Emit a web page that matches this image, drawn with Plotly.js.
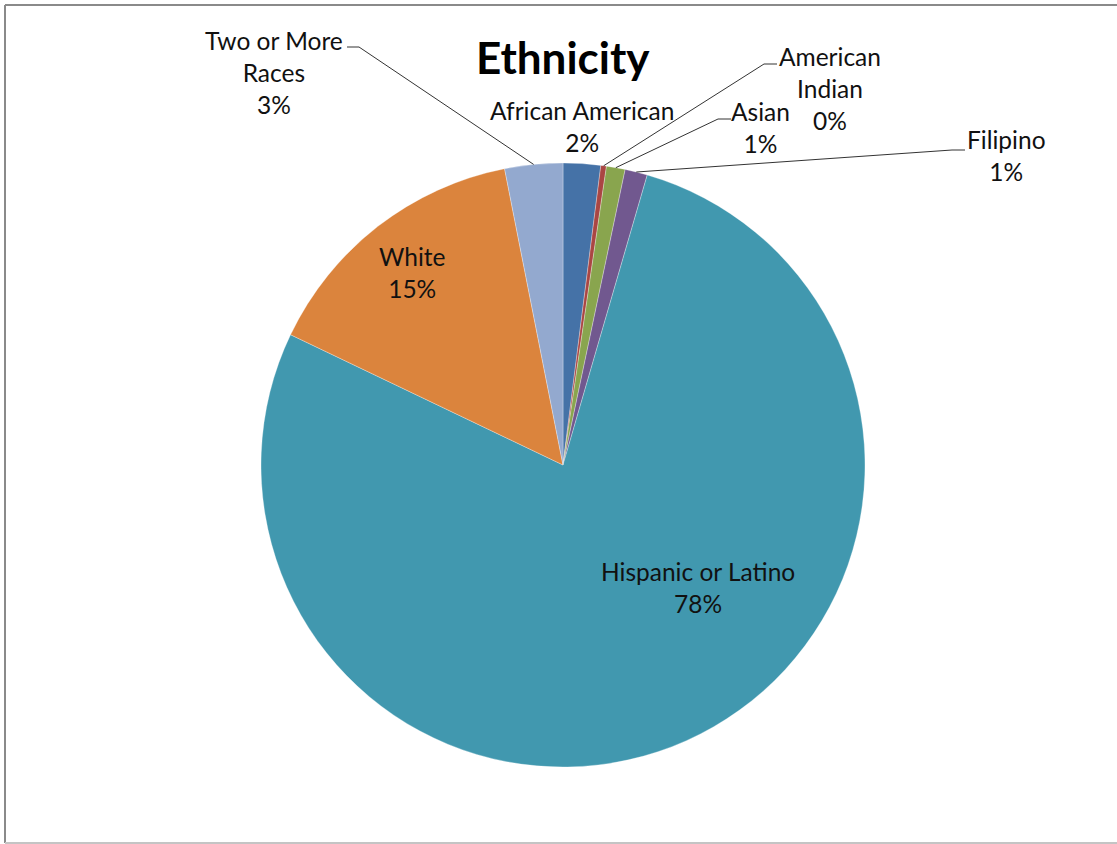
<!DOCTYPE html>
<html>
<head>
<meta charset="utf-8">
<script src="https://cdn.plot.ly/plotly-3.0.1.min.js"></script>
<style>
  html, body { margin: 0; padding: 0; background: #ffffff; }
  #chart { width: 1117px; height: 844px; }
</style>
</head>
<body>
<div id="chart"></div>
<script>
// Student ethnicity breakdown (percent of enrollment)
const categories = [
  'African American', 'American Indian', 'Asian', 'Filipino',
  'Hispanic or Latino', 'White', 'Two or More Races'
];
const shares = [2.0, 0.3, 1.0, 1.2, 77.6, 14.8, 3.1];
const sliceColors = ['#4572A7', '#AA4643', '#89A54E', '#71588F', '#4198AF', '#DB843D', '#93A9CF'];

// How each category name is broken over lines in its label
const labelLines = [
  ['African American'],
  ['American', 'Indian'],
  ['Asian'],
  ['Filipino'],
  ['Hispanic or Latino'],
  ['White'],
  ['Two or More', 'Races']
];

// Page geometry (pixels)
const W = 1117, H = 844;
const pie = { cx: 563, cy: 465, r: 302 };

// Label anchor (centre of first text line) and optional leader elbow, in pixels
const labelLayout = [
  { x: 582,  y: 111, leader: null },
  { x: 830,  y: 57,  leader: { ex: 777, ey: 64, side: 'left' } },
  { x: 760,  y: 112, leader: { ex: 731, ey: 119, side: 'left' } },
  { x: 1006, y: 140, leader: { ex: 965, ey: 150, side: 'left' } },
  { x: 698,  y: 572, leader: null },
  { x: 412,  y: 257, leader: null },
  { x: 274,  y: 41,  leader: { ex: 347, ey: 47, side: 'right' } }
];

const px = x => x / W;
const py = y => 1 - y / H;

const total = shares.reduce((a, b) => a + b, 0);
const LINE_H = 31.5;
const FONT = 'Lato, "Open Sans", sans-serif';

const annotations = [];
const shapes = [];

let cum = 0;
shares.forEach((v, i) => {
  const pct = Math.round(v / total * 100) + '%';
  const lines = labelLines[i].concat([pct]);
  const L = labelLayout[i];
  const midY = L.y + (lines.length - 1) * LINE_H / 2;
  annotations.push({
    xref: 'paper', yref: 'paper',
    x: px(L.x), y: py(midY),
    xanchor: 'center', yanchor: 'middle',
    text: lines.join('<br>'),
    showarrow: false,
    font: { family: FONT, size: 24.5, color: '#111111' },
    align: 'center'
  });

  // leader line from the slice's outer edge (mid-angle) to the label
  const mid = (cum + v / 2) / total * 2 * Math.PI;
  cum += v;
  if (L.leader) {
    const sx = pie.cx + pie.r * Math.sin(mid);
    const sy = pie.cy - pie.r * Math.cos(mid);
    const ex = L.leader.ex, ey = L.leader.ey;
    const hx = L.leader.side === 'left' ? ex - 13 : ex + 12;
    shapes.push({
      type: 'line', xref: 'paper', yref: 'paper',
      x0: px(sx), y0: py(sy), x1: px(hx), y1: py(ey),
      line: { color: '#333333', width: 1 }
    });
    shapes.push({
      type: 'line', xref: 'paper', yref: 'paper',
      x0: px(hx), y0: py(ey), x1: px(ex), y1: py(ey),
      line: { color: '#333333', width: 1 }
    });
  }
});

annotations.push({
  xref: 'paper', yref: 'paper',
  x: px(563), y: py(57),
  xanchor: 'center', yanchor: 'middle',
  text: '<b>Ethnicity</b>',
  showarrow: false,
  font: { family: FONT, size: 44, color: '#000000' }
});

// chart frame
shapes.push(
  { type: 'line', xref: 'paper', yref: 'paper', x0: px(5), y0: py(5), x1: 1, y1: py(5),
    line: { color: '#8a8a8a', width: 2 } },
  { type: 'line', xref: 'paper', yref: 'paper', x0: px(5), y0: py(5), x1: px(5), y1: py(843),
    line: { color: '#8a8a8a', width: 2 } },
  { type: 'line', xref: 'paper', yref: 'paper', x0: px(5), y0: py(843), x1: 1, y1: py(843),
    line: { color: '#c4c4c4', width: 2 } }
);

const trace = {
  type: 'pie',
  labels: categories,
  values: shares,
  sort: false,
  direction: 'clockwise',
  rotation: 0,
  textinfo: 'none',
  hoverinfo: 'label+percent',
  marker: { colors: sliceColors, line: { color: 'rgba(255,255,255,0.5)', width: 0.6 } },
  domain: {
    x: [px(pie.cx - pie.r), px(pie.cx + pie.r)],
    y: [py(pie.cy + pie.r), py(pie.cy - pie.r)]
  }
};

Plotly.newPlot('chart', [trace], {
  width: W, height: H,
  margin: { l: 0, r: 0, t: 0, b: 0 },
  paper_bgcolor: '#ffffff',
  showlegend: false,
  annotations: annotations,
  shapes: shapes
}, { displayModeBar: false, staticPlot: true });
</script>
</body>
</html>
